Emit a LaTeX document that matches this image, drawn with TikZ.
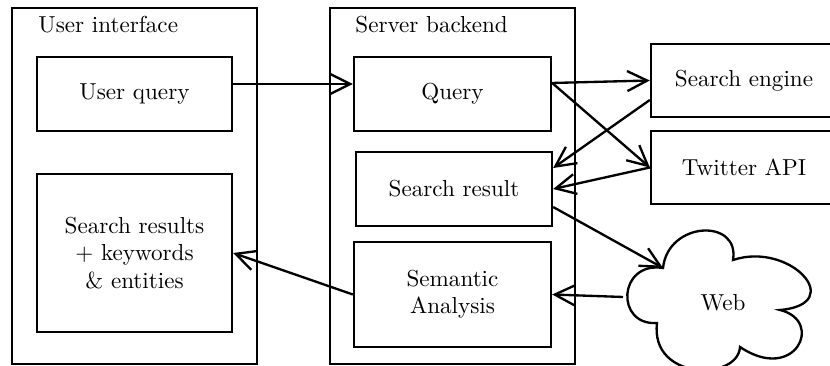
\documentclass[tikz,border=0pt]{standalone}
\usetikzlibrary{arrows.meta,calc}
\begin{document}
\begin{tikzpicture}[x=0.45pt,y=0.45pt,
  every node/.style={font=\fontsize{10.4}{12.3}\selectfont},
  box/.style={draw, line width=1.05pt, inner sep=0pt, align=center},
  arr/.style={line width=1.05pt, -{Straight Barb[length=9pt,width=9pt]}},
  ttl/.style={anchor=base west, inner sep=0pt}]
\useasboundingbox (0,0) rectangle (830,366);
\clip (0,0) rectangle (830,366);
% outer frames
\node[box, minimum width=110.25pt, minimum height=160.2pt] (ui) at (134.5,180) {};
\node[box, minimum width=110.25pt, minimum height=160.2pt] (sb) at (452.5,180) {};
\node[ttl] (uit) at (38,333) {User interface};
\node[ttl] (sbt) at (355,333) {Server backend};
% inner boxes
\node[box, minimum width=87.75pt, minimum height=33.3pt] (uq) at (134.5,272) {User query};
\node[box, minimum width=87.75pt, minimum height=71.1pt] (srs) at (134.5,113) {Search results\\+ keywords\\\& entities};
\node[box, minimum width=88.65pt, minimum height=33.3pt] (q) at (452.5,272) {Query};
\node[box, minimum width=88.2pt, minimum height=33.3pt] (sr) at (454,177) {Search result};
\node[box, minimum width=88.65pt, minimum height=47.25pt] (sa) at (452.5,71.5) {Semantic\\Analysis};
\node[box, minimum width=83.7pt, minimum height=32.85pt] (se) at (744,285.5) {Search engine};
\node[box, minimum width=83.7pt, minimum height=32.85pt] (tw) at (744,198.5) {Twitter API};
% cloud
\draw[line width=1.05pt] (663,98) .. controls (668,145) and (740,148) .. (733,106)
  .. controls (790,125) and (848,62) .. (780,56)
  .. controls (825,45) and (795,-18) .. (740,19)
  .. controls (738,-15) and (650,-15) .. (657,43)
  .. controls (615,40) and (618,105) .. (663,98) -- cycle;
\node (web) at (723,63) {Web};
\coordinate (webtop) at (663,98);
\coordinate (webleft) at (623,69);
% connectors
\draw[arr] ($(uq.east)+(0,10)$) -- ($(q.west)+(0,10)$);
\draw[arr] ($(q.east)+(0,11)$) -- (se.west);
\draw[arr] ($(q.east)+(0,11)$) -- (tw.west);
\draw[arr] ($(se.west)+(0,-19.5)$) -- ($(sr.east)+(0,21)$);
\draw[arr] (tw.west) -- (sr.east);
\draw[arr] ($(sr.east)+(0,-18)$) -- (webtop);
\draw[arr] (webleft) -- (sa.east);
\draw[arr] (sa.west) -- (srs.east);
\end{tikzpicture}
\end{document}
